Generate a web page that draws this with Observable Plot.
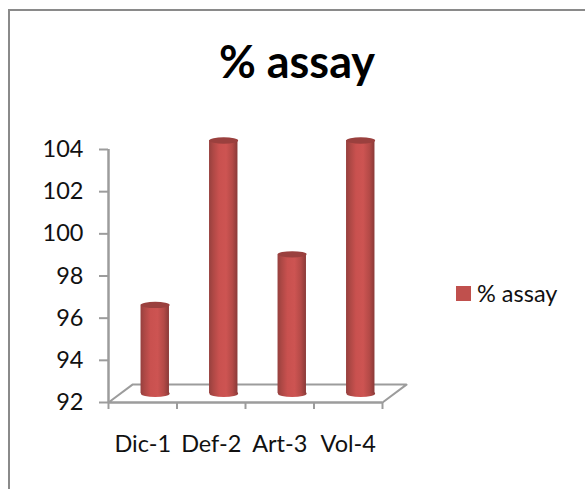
<!DOCTYPE html>
<html>
<head>
<meta charset="utf-8">
<script src="https://cdn.jsdelivr.net/npm/d3@7"></script>
<script src="https://cdn.jsdelivr.net/npm/@observablehq/plot@0.6"></script>
<style>
html,body{margin:0;padding:0;background:#fff;overflow:hidden}
#chart{position:relative;width:585px;height:489px;overflow:hidden;font-family:Lato,sans-serif;color:#111}
#frame{position:absolute;left:8px;top:9px;width:700px;height:700px;border:2.5px solid #8a8a8a;box-sizing:border-box}
#title{position:absolute;left:0;top:36px;width:594px;text-align:center;font-size:45px;font-weight:700;line-height:50px;color:#000}
#legend{position:absolute;left:456px;top:279px;display:flex;align-items:center;font-size:23.5px;line-height:28px}
#legend i{display:block;width:15px;height:15px;background:#c0504d;margin-right:6px}
svg{position:absolute;left:0;top:0}
</style>
</head>
<body>
<div id="chart">
<div id="frame"></div>
<div id="title">% assay</div>
<div id="legend"><i></i><span>% assay</span></div>
</div>
<script>
const categories = ["Dic-1", "Def-2", "Art-3", "Vol-4"];
const assay = [96.2, 104.0, 98.6, 104.0];
const yTicks = [92, 94, 96, 98, 100, 102, 104];
const seriesName = "% assay";
const floor = [[0, 92], [4, 92], [4.35, 92.85], [0.35, 92.85], [0, 92]];

const rows = categories.map((c, i) => ({c, i, v: assay[i]}));
const grey = "#9c9c9c", barW = 0.415, shiftX = 12.5, shiftY = -9;

const defs = () => {
  const d = d3.create("svg:defs");
  const g = d.append("linearGradient").attr("id", "cyl");
  [[0, "#96403e"], [0.14, "#ad4845"], [0.35, "#c9514f"], [0.6, "#cd5452"], [0.82, "#b44a47"], [1, "#8a3a38"]]
    .forEach(([o, c]) => g.append("stop").attr("offset", o).attr("stop-color", c));
  return d.node();
};
const squash = k => (index, scales, values, dim, ctx, next) => {
  const g = next(index, scales, values, dim, ctx);
  d3.select(g).selectAll("circle").each(function () {
    const cx = +this.getAttribute("cx") || 0, cy = +this.getAttribute("cy") || 0;
    this.setAttribute("transform", `translate(${cx},${cy}) scale(1,${k}) translate(${-cx},${-cy})`);
  });
  return g;
};

const plot = Plot.plot({
  width: 585, height: 489,
  marginLeft: 108, marginRight: 203, marginTop: 149, marginBottom: 87,
  style: {background: "transparent", fontFamily: "Lato, sans-serif", color: "#111"},
  x: {domain: [0, 4], axis: null},
  y: {domain: [92, 104], axis: null},
  marks: [
    defs,
    Plot.line(floor, {x: d => d[0], y: d => d[1], stroke: grey, strokeWidth: 2}),
    Plot.axisX({ticks: [0, 1, 2, 3, 4], tickFormat: () => "", tickSize: 7, stroke: grey, strokeWidth: 2, anchor: "bottom"}),
    Plot.axisX({ticks: categories.map((c, i) => i + 0.5), tickFormat: x => categories[Math.floor(x)], tickSize: 0, tickPadding: 33, fontSize: 23.5, anchor: "bottom", fill: "#111"}),
    Plot.ruleY([92], {stroke: grey, strokeWidth: 2}),
    Plot.ruleX([0], {stroke: grey, strokeWidth: 2.5, y1: 92, y2: 104}),
    Plot.axisY({ticks: yTicks, tickSize: 9, tickPadding: 16, stroke: grey, strokeWidth: 2, fontSize: 23.5, anchor: "left", fill: "#111"}),
    Plot.dot(rows, {x: d => d.i + 0.5, y: () => 92, r: 14.4, fill: "url(#cyl)", dx: shiftX, dy: shiftY, render: squash(0.25)}),
    Plot.rect(rows, {x1: d => d.i + 0.5 - barW / 2, x2: d => d.i + 0.5 + barW / 2, y1: () => 92, y2: d => d.v, fill: "url(#cyl)", dx: shiftX, dy: shiftY}),
    Plot.dot(rows, {x: d => d.i + 0.5, y: d => d.v, r: 14.4, fill: "#9a403e", dx: shiftX, dy: shiftY, render: squash(0.22)})
  ]
});
document.getElementById("chart").appendChild(plot);
document.querySelector("#legend span").textContent = seriesName;
document.getElementById("title").textContent = seriesName;
</script>
</body>
</html>
